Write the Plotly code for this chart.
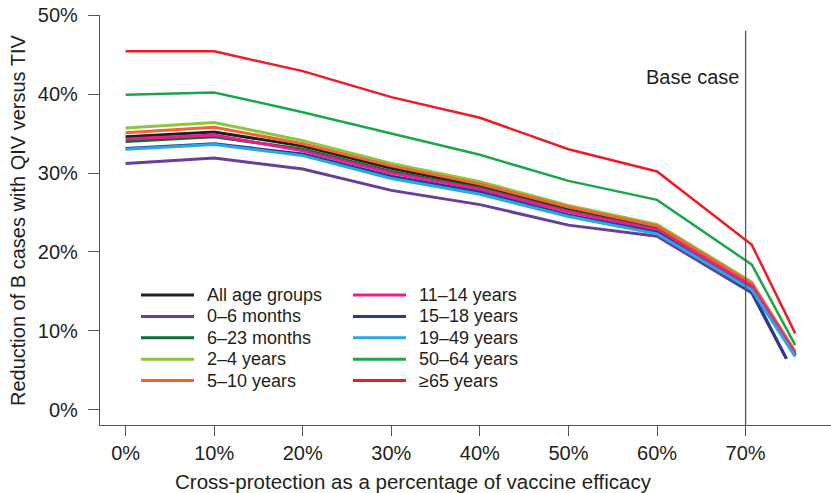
import plotly.graph_objects as go

# cross-protection (% of vaccine efficacy) at which each point was read
x_pts = [0, 10, 20, 30, 40, 50, 60, 70.7, 75.6]
x_pts_short = [0, 10, 20, 30, 40, 50, 60, 70.7, 74.6]

# reduction of B cases with QIV vs TIV (%)
all_ages = [34.6, 35.2, 33.4, 30.6, 28.35, 25.4, 23.0, 15.5, 7.0]
m0_6 = [31.2, 31.9, 30.5, 27.8, 26.0, 23.4, 22.0, 14.8, 6.5]
m6_23 = [34.0, 34.6, 33.0, 30.2, 28.1, 25.2, 22.9, 15.3, 6.9]
y2_4 = [35.7, 36.4, 34.1, 31.2, 28.9, 25.9, 23.5, 16.2, 7.3]
y5_10 = [35.1, 35.8, 33.7, 30.9, 28.6, 25.7, 23.3, 16.0, 7.4]
y11_14 = [34.3, 34.8, 32.8, 30.0, 27.95, 25.1, 22.8, 15.7, 7.1]
y15_18 = [33.1, 33.7, 32.4, 29.6, 27.6, 24.7, 22.5, 15.0, 6.5]
y19_49 = [33.0, 33.6, 32.2, 29.3, 27.3, 24.5, 22.3, 15.2, 6.75]
y50_64 = [39.9, 40.2, 37.7, 35.0, 32.3, 29.0, 26.6, 18.4, 8.2]
y65 = [45.4, 45.4, 42.9, 39.6, 37.0, 33.0, 30.2, 20.9, 9.7]

x_ticks = [0, 10, 20, 30, 40, 50, 60, 70]
x_labels = ['0%', '10%', '20%', '30%', '40%', '50%', '60%', '70%']
y_ticks = [0, 10, 20, 30, 40, 50]
y_labels = ['0%', '10%', '20%', '30%', '40%', '50%']
base_case = 70

series = [
    ('All age groups', x_pts, all_ages, '#231f20', 3),
    ('0\u20136 months', x_pts_short, m0_6, '#6a3d9a', 3),
    ('6\u201323 months', x_pts, m6_23, '#116b38', 3),
    ('2\u20134 years', x_pts, y2_4, '#8cc63f', 3),
    ('5\u201310 years', x_pts, y5_10, '#f26531', 3),
    ('11\u201314 years', x_pts, y11_14, '#ec1c8c', 3),
    ('15\u201318 years', x_pts_short, y15_18, '#2b3990', 3),
    ('19\u201349 years', x_pts, y19_49, '#29a9e0', 3),
    ('50\u201364 years', x_pts, y50_64, '#1aa64b', 2.5),
    ('\u226565 years', x_pts, y65, '#ed1c24', 2.5),
]

FONT = 'Liberation Sans, Arial, sans-serif'
TXT = '#231f20'
AX = '#555555'

W, H = 831, 493
L, T, B = 100, 15, 68
PW, PH = W - L, H - T - B


def px(xabs):
    return (xabs - L) / PW


def py(yabs):
    return (T + PH - yabs) / PH


fig = go.Figure()
for name, xs, ys, col, w in series:
    fig.add_trace(go.Scatter(x=xs, y=ys, mode='lines', name=name,
                             line=dict(color=col, width=w), showlegend=False))

# hand-placed two-column key
for i, (name, xs, ys, col, w) in enumerate(series):
    c, r = divmod(i, 5)
    x0 = [141, 353][c]
    yy = 295 + 21.4 * r
    fig.add_shape(type='line', xref='paper', yref='paper', x0=px(x0), x1=px(x0 + 53),
                  y0=py(yy), y1=py(yy), line=dict(color=col, width=3))
    fig.add_annotation(x=px(x0 + 64), y=py(yy), xref='paper', yref='paper', text=name,
                       showarrow=False, xanchor='left', yanchor='middle',
                       font=dict(size=18, color=TXT, family=FONT))

# base case marker
fig.add_shape(type='line', xref='x', yref='y', x0=base_case, x1=base_case,
              y0=-1.9, y1=48, line=dict(color=AX, width=1.3))
fig.add_annotation(x=base_case, y=42.2, xref='x', yref='y', text='Base case',
                   showarrow=False, xanchor='right', xshift=-5,
                   font=dict(size=20, color=TXT, family=FONT))

# axis titles
fig.add_annotation(x=px(413), y=py(481), xref='paper', yref='paper',
                   text='Cross-protection as a percentage of vaccine efficacy',
                   showarrow=False, yanchor='middle', xanchor='center',
                   font=dict(size=20.5, color=TXT, family=FONT))
fig.add_annotation(x=px(18), y=py(220), xref='paper', yref='paper',
                   text='Reduction of B cases with QIV versus TIV', textangle=-90,
                   showarrow=False, yanchor='middle', xanchor='center',
                   font=dict(size=20, color=TXT, family=FONT))

fig.update_layout(
    width=W, height=H, autosize=False,
    margin=dict(l=L, r=0, t=T, b=B),
    paper_bgcolor='white', plot_bgcolor='white',
    font=dict(family=FONT, size=20, color=TXT),
    showlegend=False,
    xaxis=dict(range=[-2.89, 79.64], tickvals=x_ticks, ticktext=x_labels,
               automargin=False,
               showgrid=False, zeroline=False, showline=True, linecolor=AX, linewidth=1.3,
               ticks='outside', ticklen=10, tickcolor=AX, tickwidth=1.3,
               tickfont=dict(size=20, color=TXT, family=FONT)),
    yaxis=dict(range=[-1.9, 50], tickvals=y_ticks, ticktext=y_labels,
               automargin=False,
               showgrid=False, zeroline=False, showline=True, linecolor=AX, linewidth=1.3,
               ticks='outside', ticklen=11, tickcolor=AX, tickwidth=1.3,
               ticklabelstandoff=6, ticklabeloverflow='allow',
               tickfont=dict(size=20, color=TXT, family=FONT)),
)

# drop the default 8px page margin so the figure fills the window
fig.write_html('out.html', config={'displayModeBar': False},
               post_script="document.body.style.margin='0';")
